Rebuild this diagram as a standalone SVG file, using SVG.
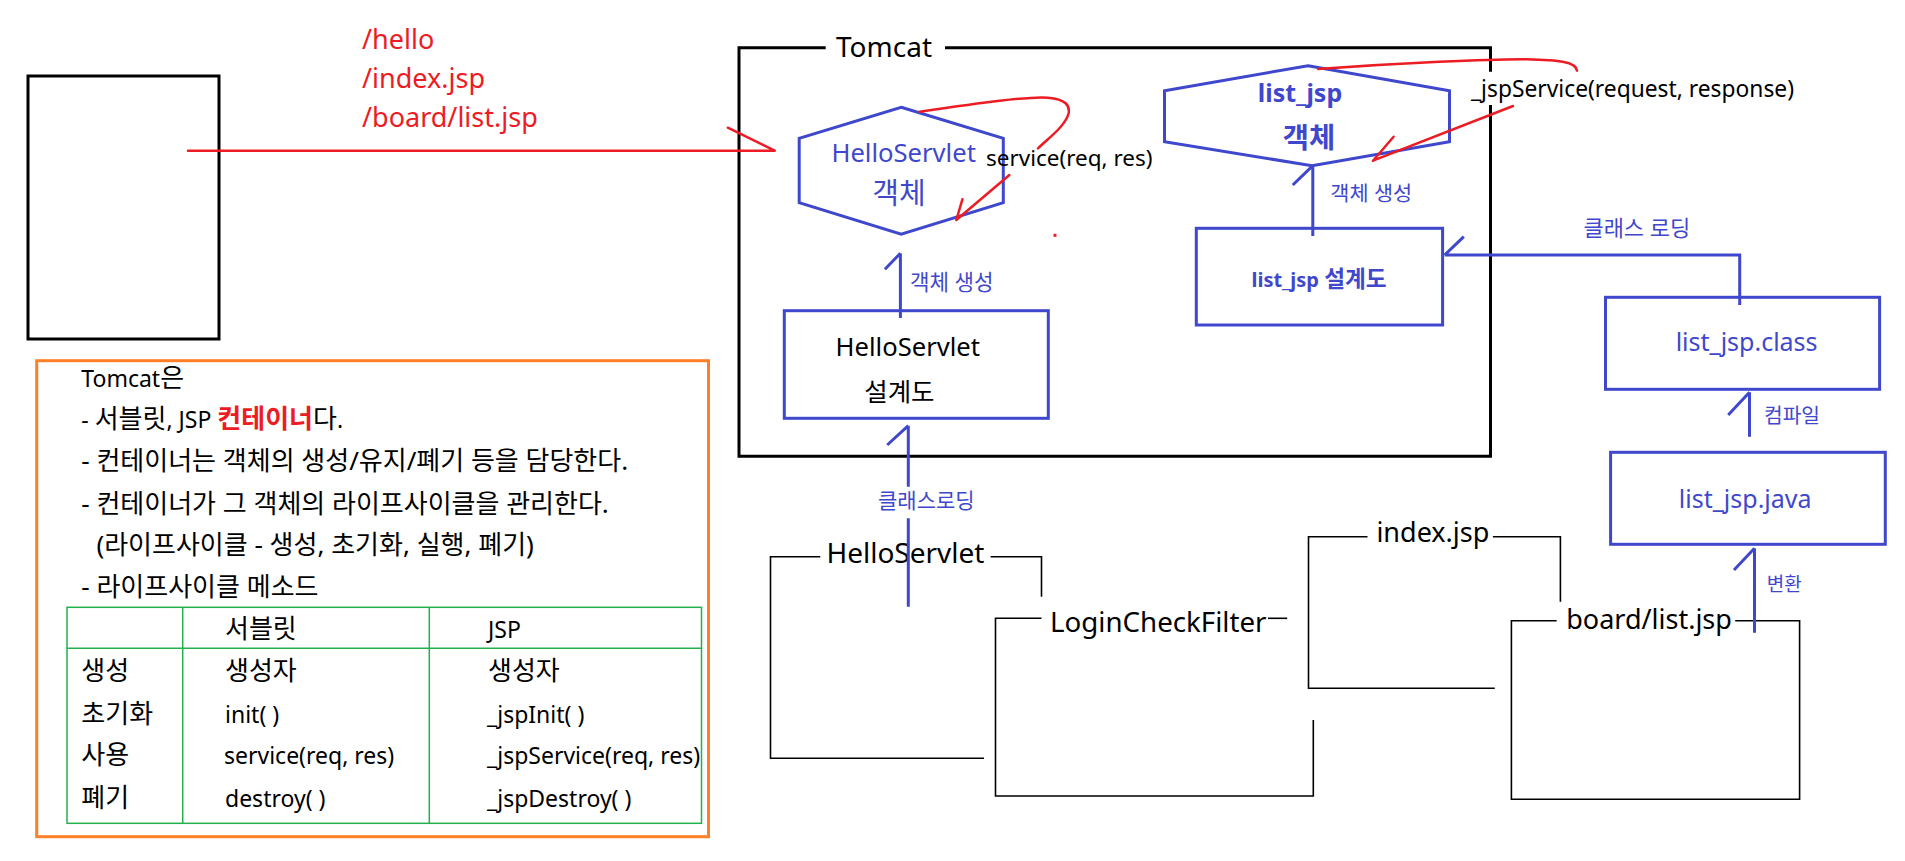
<svg xmlns="http://www.w3.org/2000/svg" width="1905" height="861" viewBox="0 0 1905 861">
<style>
text{font-family:'Noto Sans','Noto Sans CJK KR',sans-serif;}
.blk{fill:#000;}
.red{fill:#ED1C24;}
.blu{fill:#3F48CC;}
.b{font-weight:bold;}
.k{font-size:1.13em;}
.bl{fill:none;stroke:#3F48CC;stroke-width:3;}
.rl{fill:none;stroke:#ED1C24;stroke-width:2.5;stroke-linecap:round;}
.kl{fill:none;stroke:#000;stroke-width:3;}
.fr{fill:none;stroke:#000;stroke-width:1.6;}
.gr{fill:none;stroke:#22B14C;stroke-width:1.5;}
.mid{text-anchor:middle;}
</style>
<rect width="1905" height="861" fill="#fff"/>

<g id="browser">
<rect x="28" y="76" width="191" height="263" class="kl"/>
</g>

<g id="urls">
<text x="362" y="49" font-size="27" class="red">/hello</text>
<text x="362" y="88" font-size="27" class="red">/index.jsp</text>
<text x="362" y="127" font-size="27" class="red">/board/list.jsp</text>
</g>

<g id="tomcat">
<path d="M825.7,47.7 L739,47.7 L739,456.3 L1490.5,456.3 L1490.5,105" class="kl"/>
<path d="M945,47.7 L1490.5,47.7 L1490.5,71.7" class="kl"/>
<text x="836" y="57" font-size="28" class="blk">Tomcat</text>
</g>

<g id="hello-object">
<polygon points="901.2,107.3 1003.3,138.3 1003.3,202.7 901.2,234.3 799.2,202.7 799.2,138.3" class="bl"/>
<text x="903.7" y="162.3" font-size="25.6" class="blu mid">HelloServlet</text>
<text x="899" y="204" font-size="29" class="blu mid">객체</text>
</g>

<g id="hello-class">
<rect x="784.3" y="310.7" width="264" height="107.6" class="bl"/>
<text x="907.8" y="356" font-size="25.6" class="blk mid">HelloServlet</text>
<text x="899.4" y="401" font-size="25.5" class="blk mid">설계도</text>
</g>

<g id="listjsp-object">
<polygon points="1308,65.7 1449.5,90.7 1449.5,141.7 1312,165.7 1164.5,141.7 1164.5,90.7" class="bl"/>
<text x="1300" y="101.7" font-size="25" class="blu b mid">list_jsp</text>
<text x="1309" y="148" font-size="28.5" class="blu b mid">객체</text>
</g>

<g id="listjsp-class">
<rect x="1196.3" y="228.3" width="246.3" height="96.7" class="bl"/>
<text x="1319" y="287" font-size="20" class="blu b mid">list_jsp <tspan class="k">설계도</tspan></text>
</g>

<g id="listjsp-classfile">
<rect x="1605.5" y="297.3" width="274.1" height="92" class="bl"/>
<text x="1746.6" y="351" font-size="25" class="blu mid">list_jsp.class</text>
</g>

<g id="listjsp-java">
<rect x="1610.6" y="452.3" width="274.7" height="92" class="bl"/>
<text x="1745.2" y="508.3" font-size="25" class="blu mid">list_jsp.java</text>
</g>

<g id="frame-helloservlet">
<path d="M820.3,556.7 L770.5,556.7 L770.5,758.3 L984,758.3" class="fr"/>
<path d="M990.6,556.7 L1041.5,556.7 L1041.5,596.7" class="fr"/>
<text x="826.4" y="563.3" font-size="28" class="blk">HelloServlet</text>
</g>

<g id="frame-logincheckfilter">
<path d="M1041.5,618.3 L995.5,618.3 L995.5,796 L1313.3,796 L1313.3,720" class="fr"/>
<path d="M1268,618.3 L1287.2,618.3" class="fr"/>
<text x="1050" y="631.7" font-size="27.7" class="blk">LoginCheckFilter</text>
</g>

<g id="frame-index">
<path d="M1367.5,536.7 L1308.5,536.7 L1308.5,688.3 L1494.8,688.3" class="fr"/>
<path d="M1492.9,536.7 L1560.4,536.7 L1560.4,601.7" class="fr"/>
<text x="1376.4" y="541.7" font-size="27" class="blk">index.jsp</text>
</g>

<g id="frame-boardlist">
<path d="M1556.6,620.7 L1511.4,620.7 L1511.4,799.3 L1799.6,799.3 L1799.6,620.7 L1735.2,620.7" class="fr"/>
<text x="1566.2" y="629.3" font-size="27" class="blk">board/list.jsp</text>
</g>

<g id="connectors">
<path d="M188,150.7 L774.7,150.7 M727.8,127.7 L774.7,150.7" class="rl"/>
<path d="M919.6,111.7 C980,103 1030,96 1048,97.7 C1066,99 1070,106 1068.6,113.3 C1066,125 1050,137 1038,148.3" class="rl"/>
<path d="M1009.4,175 L956.3,220 M962.4,199.3 L956.3,220" class="rl"/>
<path d="M1318,69 C1400,63 1490,59 1526,59.3 C1560,60 1576,62 1577,70.7" class="rl"/>
<path d="M1513,106 L1373,160.7 M1393.6,136.7 L1373,160.7" class="rl"/>
<rect x="1053.5" y="233.8" width="3" height="3" fill="#ED1C24"/>

<path d="M900.4,318 L900.4,253.3 M884.9,269.3 L900.4,253.3" class="bl"/>
<path d="M1312.8,236 L1312.8,165.7 M1292.8,185 L1312.8,165.7" class="bl"/>
<path d="M1739.7,305 L1739.7,255 L1444.6,255 M1463.8,236.7 L1444.6,255" class="bl"/>
<path d="M1749.5,436.7 L1749.5,392.3 M1728.2,415 L1749.5,392.3" class="bl"/>
<path d="M1754.5,632.7 L1754.5,548.3 M1734,570 L1754.5,548.3" class="bl"/>
<path d="M908.3,606.7 L908.3,518.3 M908.3,486.7 L908.3,425.7 M887.2,445 L908.3,425.7" class="bl"/>

<text x="986" y="166" font-size="22.5" class="blk">service(req, res)</text>
<text x="1471" y="96.7" font-size="22.8" class="blk">_jspService(request, response)</text>
<text x="910" y="289.5" font-size="21.2" class="blu">객체 생성</text>
<text x="1330.3" y="201" font-size="20.8" class="blu">객체 생성</text>
<text x="1583.4" y="236" font-size="22" class="blu">클래스 로딩</text>
<text x="1764" y="422.5" font-size="20.3" class="blu">컴파일</text>
<text x="1766.8" y="591" font-size="19" class="blu">변환</text>
<text x="878" y="507.5" font-size="21" class="blu">클래스로딩</text>
</g>

<g id="notes">
<rect x="36.7" y="360.7" width="671.8" height="476" fill="none" stroke="#FF7F27" stroke-width="3"/>
<text x="81.3" y="386.7" font-size="23" class="blk">Tomcat<tspan class="k">은</tspan></text>
<text x="81.3" y="428.3" font-size="23" class="blk">- <tspan class="k">서블릿</tspan>, JSP <tspan class="k red b">컨테이너</tspan><tspan class="k">다</tspan>.</text>
<text x="81.3" y="470" font-size="26" class="blk">- 컨테이너는 객체의 생성/유지/폐기 등을 담당한다.</text>
<text x="81.3" y="512.7" font-size="26" class="blk">- 컨테이너가 그 객체의 라이프사이클을 관리한다.</text>
<text x="96.4" y="554.3" font-size="26" class="blk">(라이프사이클 - 생성, 초기화, 실행, 폐기)</text>
<text x="81.3" y="596" font-size="26" class="blk">- 라이프사이클 메소드</text>
</g>

<g id="lifecycle-table">
<rect x="67" y="607.3" width="634.5" height="216" class="gr"/>
<path d="M182.7,607.3 L182.7,823.3 M429.3,607.3 L429.3,823.3 M67,648.3 L702,648.3" class="gr"/>
<text x="225" y="638.3" font-size="26" class="blk">서블릿</text>
<text x="488" y="638.3" font-size="23" class="blk">JSP</text>
<text x="81.3" y="680" font-size="26" class="blk">생성</text>
<text x="81.3" y="722.7" font-size="26" class="blk">초기화</text>
<text x="81.3" y="764" font-size="26" class="blk">사용</text>
<text x="81.3" y="806.7" font-size="26" class="blk">폐기</text>
<text x="225" y="680" font-size="26" class="blk">생성자</text>
<text x="225" y="722.7" font-size="23" class="blk">init( )</text>
<text x="224" y="764" font-size="23" class="blk">service(req, res)</text>
<text x="225" y="806.7" font-size="23" class="blk">destroy( )</text>
<text x="488" y="680" font-size="26" class="blk">생성자</text>
<text x="487" y="722.7" font-size="23" class="blk">_jspInit( )</text>
<text x="487" y="764" font-size="23" class="blk">_jspService(req, res)</text>
<text x="487" y="806.7" font-size="23" class="blk">_jspDestroy( )</text>
</g>
</svg>
